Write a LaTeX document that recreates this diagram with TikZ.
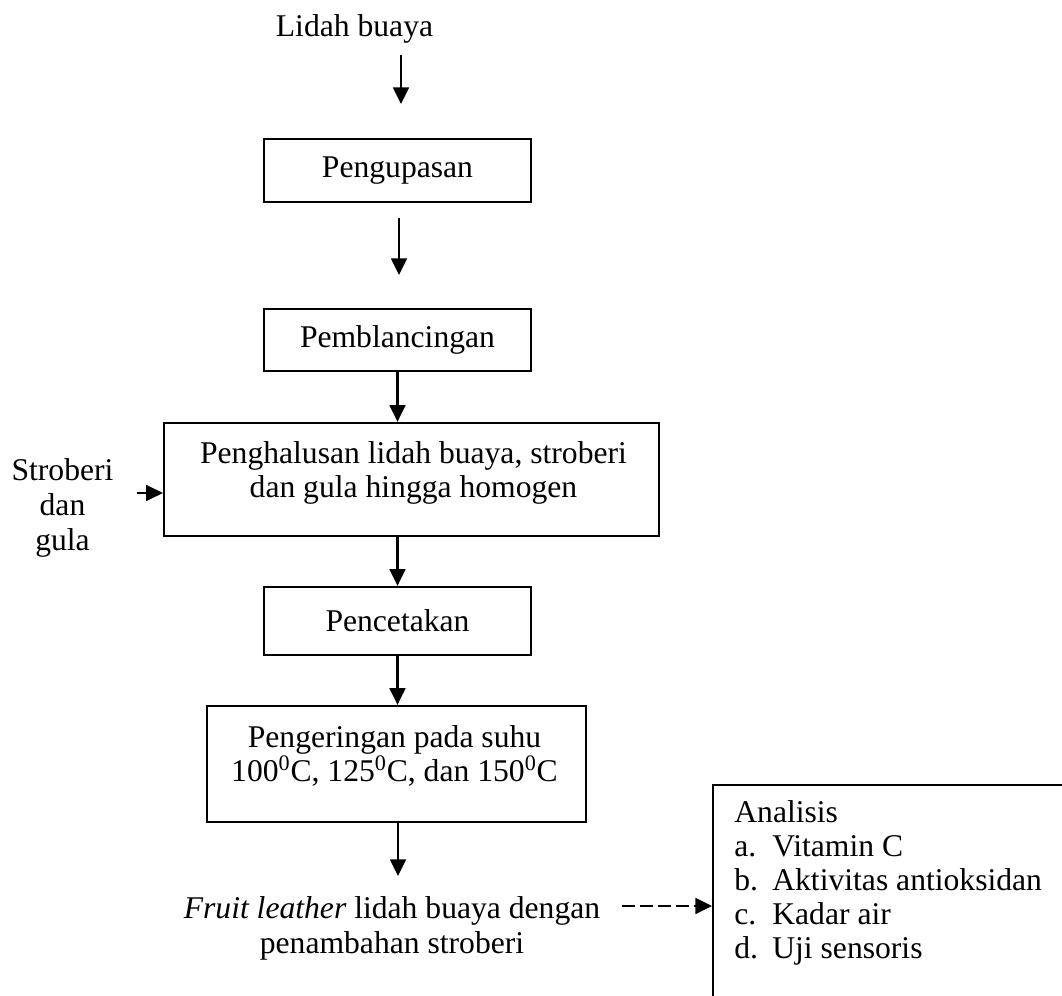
\documentclass[tikz,border=0pt]{standalone}
\usepackage{fontspec}
\setmainfont{Liberation Serif}
\usetikzlibrary{arrows.meta}
\newcommand{\fsz}{\fontsize{18pt}{19.35pt}\selectfont}
\begin{document}
\begin{tikzpicture}[x=0.02cm,y=-0.02cm,
  every node/.style={font=\fsz},
  procbox/.style={draw, line width=1.3pt, inner sep=0pt},
  lbl/.style={inner sep=0pt, anchor=north, align=center},
  arr/.style={line width=1.3pt, -{Triangle[length=9.5pt,width=9pt]}},
  darr/.style={arr, dash pattern=on 7.4pt off 2.8pt}]
\useasboundingbox (0,0) rectangle (1062,996);

% input text
\node[inner sep=0pt, anchor=base] (lidah) at (354.5,37) {Lidah buaya};

% process boxes
\node[procbox, minimum width=5.34cm, minimum height=1.26cm] (kupas) at (397.5,170.5) {Pengupasan};
\node[procbox, minimum width=5.34cm, minimum height=1.24cm] (blanch) at (397.5,340) {Pemblancingan};
\node[procbox, minimum width=9.9cm, minimum height=2.26cm] (halus) at (411.5,479.5) {};
\node[lbl] (halustxt) at (413.5,441.4) {Penghalusan lidah buaya, stroberi\\dan gula hingga homogen};
\node[procbox, minimum width=5.34cm, minimum height=1.36cm] (cetak) at (397.5,621) {Pencetakan};
\node[procbox, minimum width=7.58cm, minimum height=2.32cm] (kering) at (396.5,764) {};
\node[lbl] (keringtxt) at (394.5,725.4) {Pengeringan pada suhu\\100\textsuperscript{0}C, 125\textsuperscript{0}C, dan 150\textsuperscript{0}C};

% side input
\node[lbl, font=\fontsize{18pt}{20pt}\selectfont] (stroberi) at (62.5,458.4) {Stroberi\\dan\\gula};

% product
\node[lbl, font=\fontsize{18pt}{20pt}\selectfont] (produk) at (392,896.4) {\textit{Fruit leather} lidah buaya dengan\\penambahan stroberi};

% analysis box
\node[procbox, anchor=north west, minimum width=8cm, minimum height=5cm] (analisis) at (712,784) {};
\node[inner sep=0pt, anchor=north west, align=left] (analisistxt) at (734,800.4)
  {Analisis\\
   \makebox[0.76cm][l]{a.}Vitamin C\\
   \makebox[0.76cm][l]{b.}Aktivitas antioksidan\\
   \makebox[0.76cm][l]{c.}Kadar air\\
   \makebox[0.76cm][l]{d.}Uji sensoris};

% free ends
\coordinate (a1s) at (401,55);
\coordinate (a1e) at (401,104);
\coordinate (a2s) at (399,218);
\coordinate (a2e) at (399,275);
\coordinate (a6e) at (398,876);
\coordinate (sts) at (137,493);
\coordinate (das) at (622,906);

% connectors
\draw[arr] (a1s) -- (a1e);
\draw[arr] (a2s) -- (a2e);
\draw[arr] (blanch.south) -- (blanch.south |- halus.north);
\draw[arr] (cetak.north |- halus.south) -- (cetak.north);
\draw[arr] (cetak.south) -- (cetak.south |- kering.north);
\draw[arr] (kering.south -| a6e) -- (a6e);
\draw[arr] (sts) -- (sts -| halus.west);
\draw[darr] (das) -- (das -| analisis.west);
\end{tikzpicture}
\end{document}
